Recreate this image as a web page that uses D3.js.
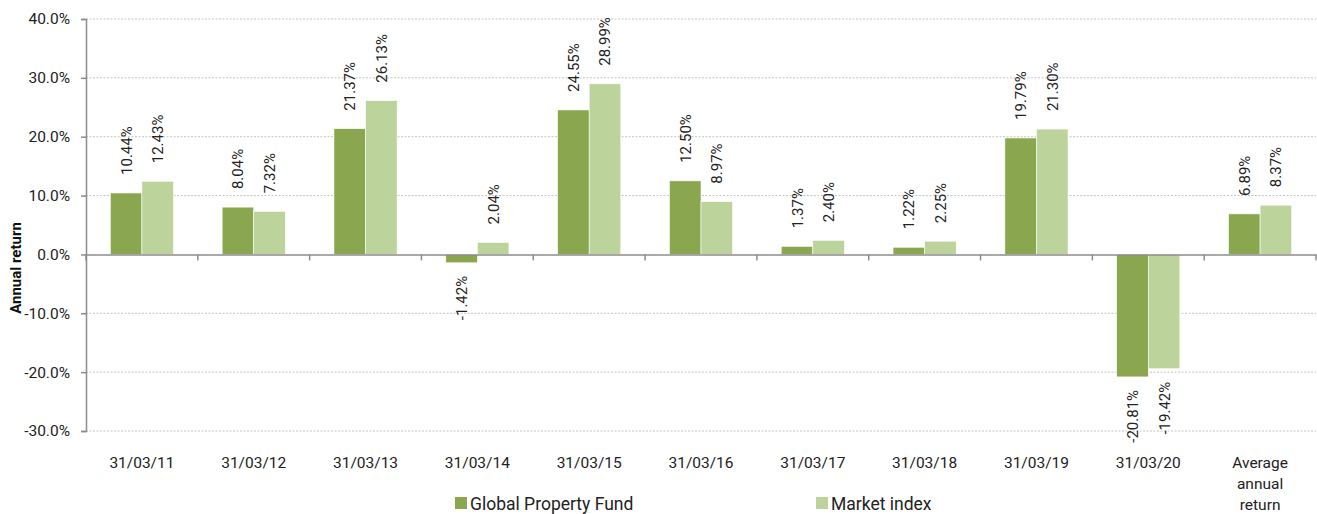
<!DOCTYPE html>
<html>
<head>
<meta charset="utf-8">
<script src="https://cdn.jsdelivr.net/npm/d3@7"></script>
<style>
  body { margin: 0; background: #fff; }
  svg { font-family: Roboto, "Noto Sans", sans-serif; }
</style>
</head>
<body>
<svg id="chart" width="1317" height="514"></svg>
<script>
const categories = ["31/03/11","31/03/12","31/03/13","31/03/14","31/03/15","31/03/16","31/03/17","31/03/18","31/03/19","31/03/20","Average annual return"];
const fundValues = [10.44, 8.04, 21.37, -1.42, 24.55, 12.50, 1.37, 1.22, 19.79, -20.81, 6.89];
const indexValues = [12.43, 7.32, 26.13, 2.04, 28.99, 8.97, 2.40, 2.25, 21.30, -19.42, 8.37];
const seriesNames = ["Global Property Fund", "Market index"];
const yTicks = [-30, -20, -10, 0, 10, 20, 30, 40];
const colors = ["#8aa64f", "#bcd39b"];

const svg = d3.select("#chart");
const mLeft = 86, mRight = 1316, mTop = 19, mBottom = 431;

const x = d3.scaleBand().domain(categories).range([mLeft, mRight]).paddingInner(0).paddingOuter(0);
const y = d3.scaleLinear().domain([-30, 40]).range([mBottom, mTop]);
const groupW = x.bandwidth() * 0.565;
const x1 = d3.scaleBand().domain(seriesNames).range([0, groupW]).padding(0);

// gridlines
svg.append("g").selectAll("line").data(yTicks.filter(d => d !== 0)).join("line")
  .attr("x1", mLeft).attr("x2", mRight)
  .attr("y1", d => y(d)).attr("y2", d => y(d))
  .attr("stroke", "#c4c4c4").attr("stroke-width", 1).attr("stroke-dasharray", "2,1.5");

// y axis
const yAxis = d3.axisLeft(y).tickValues(yTicks).tickSize(5).tickPadding(11)
  .tickFormat(d => d.toFixed(1) + "%");
const gy = svg.append("g").attr("transform", `translate(${mLeft},0)`).call(yAxis);
gy.select(".domain").attr("stroke", "#8c8c8c").attr("stroke-width", 1.5);
gy.selectAll(".tick line").attr("stroke", "#8c8c8c").attr("stroke-width", 1.5);
gy.selectAll(".tick text").attr("font-size", 15.5).attr("fill", "#222").attr("font-family", "Roboto, sans-serif");

// bars
const data = categories.map((c, i) => ({c, vals: [fundValues[i], indexValues[i]]}));
const groups = svg.append("g").selectAll("g").data(data).join("g")
  .attr("transform", d => `translate(${x(d.c) + (x.bandwidth() - groupW) / 2},0)`);

groups.selectAll("rect").data(d => d.vals.map((v, j) => ({v, s: seriesNames[j], j}))).join("rect")
  .attr("x", d => x1(d.s))
  .attr("width", x1.bandwidth())
  .attr("y", d => y(Math.max(0, d.v)))
  .attr("height", d => Math.abs(y(d.v) - y(0)))
  .attr("fill", d => colors[d.j])
  .attr("stroke", "#ffffff").attr("stroke-width", 0.6);

// labels
groups.selectAll("text").data(d => d.vals.map((v, j) => ({v, s: seriesNames[j], j}))).join("text")
  .attr("transform", d => {
    const cx = x1(d.s) + x1.bandwidth() / 2 + 5.5;
    const cy = d.v >= 0 ? y(d.v) - 18 : y(d.v) + 13;
    return `translate(${cx},${cy}) rotate(-90)`;
  })
  .attr("text-anchor", d => d.v >= 0 ? "start" : "end")
  .attr("font-size", 15).attr("fill", "#222")
  .text(d => d.v.toFixed(2) + "%");

// x axis line with ticks
const xAxis = d3.axisBottom(x).tickSize(0).tickFormat("");
const gx = svg.append("g").attr("transform", `translate(0,${y(0)})`).call(xAxis);
gx.select(".domain").attr("stroke", "#8c8c8c").attr("stroke-width", 1.5);
const boundaries = categories.map(c => x(c) + x.bandwidth()).concat([mLeft]);
gx.selectAll(".bnd").data(boundaries).join("line").attr("class", "bnd")
  .attr("x1", d => d).attr("x2", d => d).attr("y1", 0).attr("y2", 6)
  .attr("stroke", "#8c8c8c").attr("stroke-width", 1.5);

// x category labels
const xl = svg.append("g").selectAll("text").data(categories).join("text")
  .attr("x", d => x(d) + x.bandwidth() / 2)
  .attr("y", 467.5)
  .attr("text-anchor", "middle").attr("font-size", 15.5).attr("fill", "#222");
xl.each(function(d) {
  const t = d3.select(this);
  const words = d === "Average annual return" ? ["Average", "annual", "return"] : [d];
  words.forEach((w, i) => t.append("tspan").attr("x", x(d) + x.bandwidth() / 2).attr("dy", i === 0 ? 0 : 21).text(w));
});

// y title
svg.append("text")
  .attr("transform", `translate(21,268) rotate(-90)`)
  .attr("text-anchor", "middle").attr("font-size", 15).attr("font-weight", "bold").attr("fill", "#111")
  .text("Annual return");

// legend
const legendX = [455, 816];
const lg = svg.append("g").selectAll("g").data(seriesNames).join("g")
  .attr("transform", (d, i) => `translate(${legendX[i]},497)`);
lg.append("rect").attr("width", 12).attr("height", 12).attr("fill", (d, i) => colors[i]);
lg.append("text").attr("x", 15).attr("y", 12.5).attr("font-size", 17.5).attr("fill", "#222").text(d => d);
</script>
</body>
</html>
